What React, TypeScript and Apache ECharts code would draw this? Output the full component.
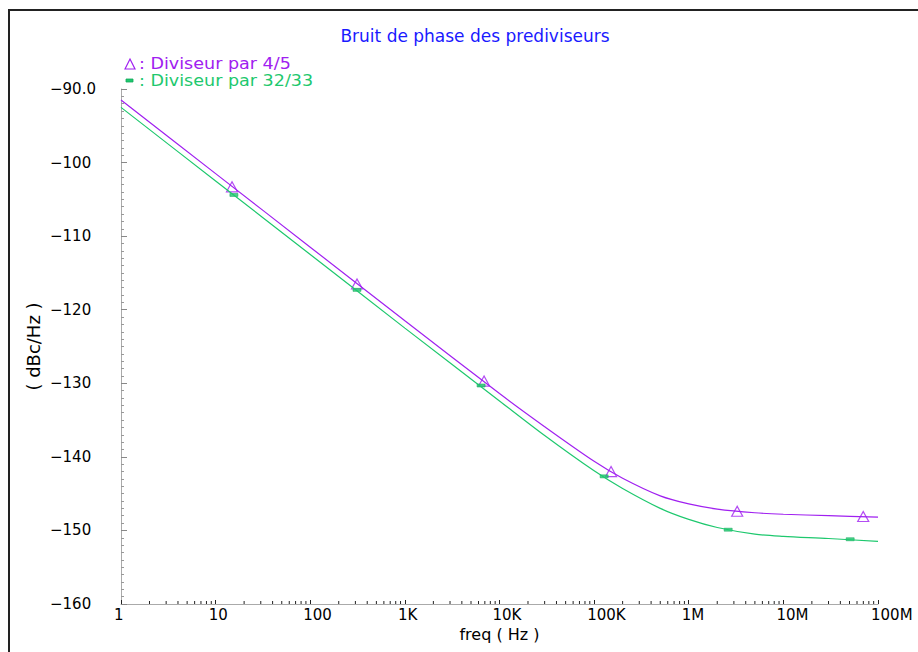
import React, { useEffect, useRef } from "react";
import * as echarts from "echarts";

// ---- data ----
const freqs = [1, 10, 100, 1e3, 1e4, 3e4, 1e5, 2e5, 5e5, 1e6, 2e6, 5e6, 1e7, 3e7, 1e8];
const noise45 = [-91.5, -101.5, -111.5, -121.5, -131.4, -135.9, -140.6, -142.9, -145.3, -146.4, -147.1, -147.6, -147.8, -148.0, -148.2];
const noise3233 = [-92.5, -102.5, -112.5, -122.5, -132.4, -137.1, -141.9, -144.3, -147.0, -148.5, -149.6, -150.5, -150.8, -151.1, -151.5];

const markers45: [number, number][] = [
  [14.9, -103.3], [312, -116.5], [6870, -129.7], [151000, -142.0], [3.25e6, -147.4], [6.98e7, -148.1],
];
const markers3233: [number, number][] = [
  [15.6, -104.4], [312, -117.3], [6390, -130.3], [127600, -142.65], [2.61e6, -149.9], [5.08e7, -151.2],
];

const xTickLabels = ["1", "10", "100", "1K", "10K", "100K", "1M", "10M", "100M"];
const seriesNames = ["Diviseur par 4/5", "Diviseur par 32/33"];
const title = "Bruit de phase des prediviseurs";

const PURPLE = "#a020f0";
const GREEN = "#1ec86e";
const FONT = "DejaVu Sans";

export default function App() {
  const ref = useRef<HTMLDivElement>(null);
  useEffect(() => {
    if (!ref.current) return;
    const chart = echarts.init(ref.current, undefined, { renderer: "svg" });

    const minorTicks: number[][] = [];
    for (let d = 0; d < 8; d++) {
      for (let k = 2; k <= 9; k++) minorTicks.push([k * Math.pow(10, d), -160]);
    }

    chart.setOption({
      animation: false,
      backgroundColor: "#fff",
      title: {
        text: title,
        left: 470,
        textAlign: "center",
        top: 22,
        textStyle: { color: "#1a1aff", fontSize: 17, fontWeight: "normal", fontFamily: FONT },
      },
      grid: { left: 121, right: 40, top: 89, bottom: 48, containLabel: false },
      xAxis: {
        type: "log",
        logBase: 10,
        min: 1,
        max: 1e8,
        splitNumber: 8,
        name: "freq ( Hz )",
        nameLocation: "middle",
        nameGap: 22,
        nameMoveOverlap: false,
        nameTextStyle: { color: "#000", fontSize: 16, fontFamily: FONT },
        axisLine: { lineStyle: { color: "#aaa", width: 1 } },
        axisTick: { show: true, inside: true, length: 4, lineStyle: { color: "#222" } },
        splitLine: { show: false },
        axisLabel: {
          color: "#000",
          fontSize: 15,
          fontFamily: FONT,
          margin: 3,
          align: "left",
          padding: [0, 0, 0, -7],
          showMinLabel: true,
          showMaxLabel: true,
          formatter: (v: number) => xTickLabels[Math.round(Math.log10(v))] ?? "",
        },
      },
      yAxis: {
        type: "value",
        min: -160,
        max: -90,
        interval: 10,
        name: "( dBc/Hz )",
        nameLocation: "middle",
        nameGap: 79,
        nameMoveOverlap: false,
        nameRotate: 90,
        nameTextStyle: { color: "#000", fontSize: 18, fontFamily: FONT },
        axisLine: { show: true, lineStyle: { color: "#aaa", width: 1 } },
        axisTick: { show: true, inside: true, length: 6, lineStyle: { color: "#888" } },
        minorTick: { show: true, splitNumber: 10, length: 3, lineStyle: { color: "#999" } },
        splitLine: { show: false },
        axisLabel: {
          color: "#000",
          fontSize: 15,
          fontFamily: FONT,
          align: "left",
          margin: 71,
          formatter: (v: number) => (v === -90 ? "\u221290.0" : "\u2212" + Math.abs(v)),
        },
      },
      graphic: [
        {
          type: "rect",
          shape: { x: 9, y: 10, width: 1200, height: 1200 },
          style: { fill: "none", stroke: "#222", lineWidth: 2 },
          silent: true,
        },
        {
          type: "polygon",
          shape: { points: [[125, 69], [130, 59], [135, 69]] },
          style: { fill: "none", stroke: PURPLE, lineWidth: 1.2 },
        },
        {
          type: "text",
          x: 139,
          y: 64,
          scaleX: 1.17,
          style: { text: ": " + seriesNames[0], fill: PURPLE, fontSize: 15, fontFamily: FONT, verticalAlign: "middle" },
        },
        {
          type: "rect",
          shape: { x: 126, y: 79, width: 7, height: 3 },
          style: { fill: GREEN, stroke: "#12a85a", lineWidth: 0.8 },
        },
        {
          type: "text",
          x: 139,
          y: 80.5,
          scaleX: 1.17,
          style: { text: ": " + seriesNames[1], fill: GREEN, fontSize: 15, fontFamily: FONT, verticalAlign: "middle" },
        },
      ],
      series: [
        {
          name: seriesNames[0],
          type: "line",
          smooth: 0.3,
          showSymbol: false,
          data: freqs.map((f, i) => [f, noise45[i]]),
          lineStyle: { color: PURPLE, width: 1.2 },
          itemStyle: { color: PURPLE },
        },
        {
          name: seriesNames[1],
          type: "line",
          smooth: 0.3,
          showSymbol: false,
          data: freqs.map((f, i) => [f, noise3233[i]]),
          lineStyle: { color: GREEN, width: 1.2 },
          itemStyle: { color: GREEN },
        },
        {
          name: seriesNames[0] + " marker",
          type: "scatter",
          symbol: "triangle",
          symbolSize: [11, 10],
          data: markers45,
          itemStyle: { color: "rgba(255,255,255,0)", borderColor: PURPLE, borderWidth: 1.2 },
        },
        {
          name: seriesNames[1] + " marker",
          type: "scatter",
          symbol: "rect",
          symbolSize: [8, 3],
          data: markers3233,
          itemStyle: { color: GREEN, borderColor: "#12a85a", borderWidth: 0.6 },
        },
        {
          type: "custom",
          silent: true,
          data: minorTicks,
          renderItem: (params: any, api: any) => {
            const p = api.coord([api.value(0), api.value(1)]);
            return {
              type: "line",
              shape: { x1: p[0], y1: p[1], x2: p[0], y2: p[1] - 3 },
              style: { stroke: "#222", lineWidth: 1 },
            };
          },
        },
      ],
    });
    return () => chart.dispose();
  }, []);

  return (
    <div
      ref={ref}
      style={{ position: "fixed", left: 0, top: 0, width: 918, height: 652, background: "#fff" }}
    />
  );
}
